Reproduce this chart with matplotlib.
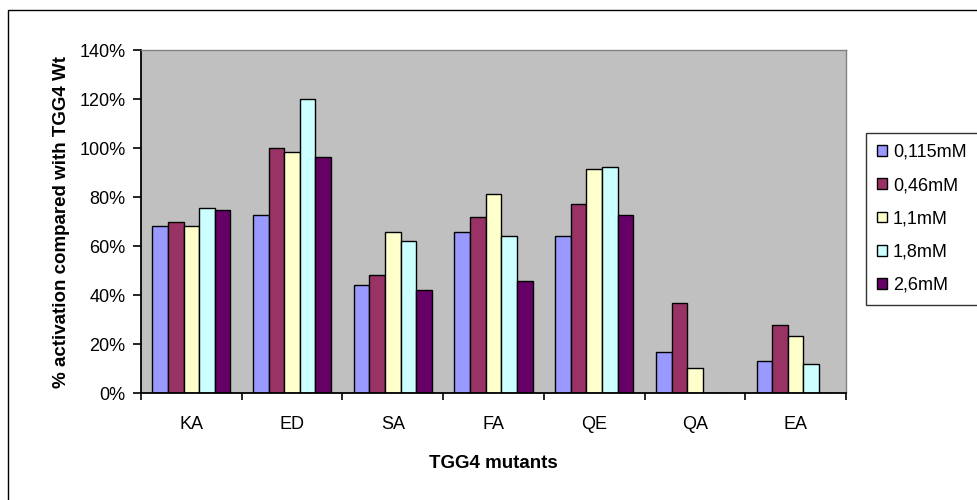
import numpy as np
import matplotlib.pyplot as plt
from matplotlib.patches import Rectangle
from matplotlib.ticker import FuncFormatter

plt.rcParams['font.family'] = ['Liberation Sans', 'DejaVu Sans']

# TGG4 mutants and activity at each substrate concentration (% of wild type)
mutants = ['KA', 'ED', 'SA', 'FA', 'QE', 'QA', 'EA']
conc_labels = ['0,115mM', '0,46mM', '1,1mM', '1,8mM', '2,6mM']
act_0115 = [68.4, 72.8, 44.1, 65.6, 64.1, 17.0, 13.3]
act_046 = [69.8, 100.0, 48.3, 72.0, 77.1, 36.9, 27.8]
act_11 = [68.4, 98.4, 65.6, 81.2, 91.4, 10.5, 23.4]
act_18 = [75.6, 120.0, 62.0, 64.1, 92.1, 0.0, 12.0]
act_26 = [74.8, 96.3, 42.2, 45.6, 72.8, 0.0, 0.0]
colors = ['#9999FF', '#993366', '#FFFFCC', '#CCFFFF', '#660066']

series = [act_0115, act_046, act_11, act_18, act_26]

fig = plt.figure(figsize=(9.78, 5.0), dpi=100)
W, H = 978, 500
ax = fig.add_axes([141 / W, 1 - 393.3 / H, (846 - 141) / W, (393.3 - 50) / H])
ax.set_facecolor('#C0C0C0')

x = np.arange(len(mutants))
bw = 0.155
for i, (vals, col, lab) in enumerate(zip(series, colors, conc_labels)):
    offs = (i - 2) * bw
    ax.bar(x + offs, vals, width=bw, color=col, edgecolor='black',
           linewidth=1.0, label=lab)

ax.set_xlim(-0.5, len(mutants) - 0.5)
ax.set_ylim(0, 140)
ax.set_yticks(np.arange(0, 141, 20))
ax.yaxis.set_major_formatter(FuncFormatter(lambda v, p: f'{int(v)}%'))

# category ticks sit between groups, labels centered under each group
ax.set_xticks(np.arange(-0.5, len(mutants), 1.0))
ax.set_xticklabels([])
ax.set_xticks(x, minor=True)
ax.set_xticklabels(mutants, minor=True)
ax.tick_params(axis='x', which='minor', length=0, pad=16, labelsize=13)
ax.tick_params(axis='x', which='major', length=5, width=1.2, direction='out')
ax.tick_params(axis='y', length=6, width=1.2, direction='out', labelsize=13, pad=5)

for s in ['left', 'bottom']:
    ax.spines[s].set_color('black')
    ax.spines[s].set_linewidth(1.3)
for s in ['top', 'right']:
    ax.spines[s].set_color('#808080')
    ax.spines[s].set_linewidth(1.0)

ax.set_ylabel('% activation compared with TGG4 Wt', fontsize=13.5,
              fontweight='bold', va='center')
ax.yaxis.set_label_coords((62 - 141) / 705, 0.5)
ax.set_xlabel('TGG4 mutants', fontsize=13.5, fontweight='bold', va='center')
ax.xaxis.set_label_coords(0.5, -(463 - 393.3) / 343.3)

leg = fig.legend(loc='upper left', bbox_to_anchor=(866 / W, 1 - 133 / H),
                 frameon=True, fancybox=False, edgecolor='black',
                 fontsize=13, handlelength=0.55, handleheight=0.55,
                 handletextpad=0.35, labelspacing=0.9, borderpad=0.6,
                 borderaxespad=0)
leg.get_frame().set_linewidth(1.0)

# chart area border
fig.patches.append(Rectangle((8 / W, -0.02), 1.1, 1 - 10 / H + 0.02,
                             transform=fig.transFigure, fill=False,
                             edgecolor='black', linewidth=1.0))

fig.savefig('out.png', dpi=100)
